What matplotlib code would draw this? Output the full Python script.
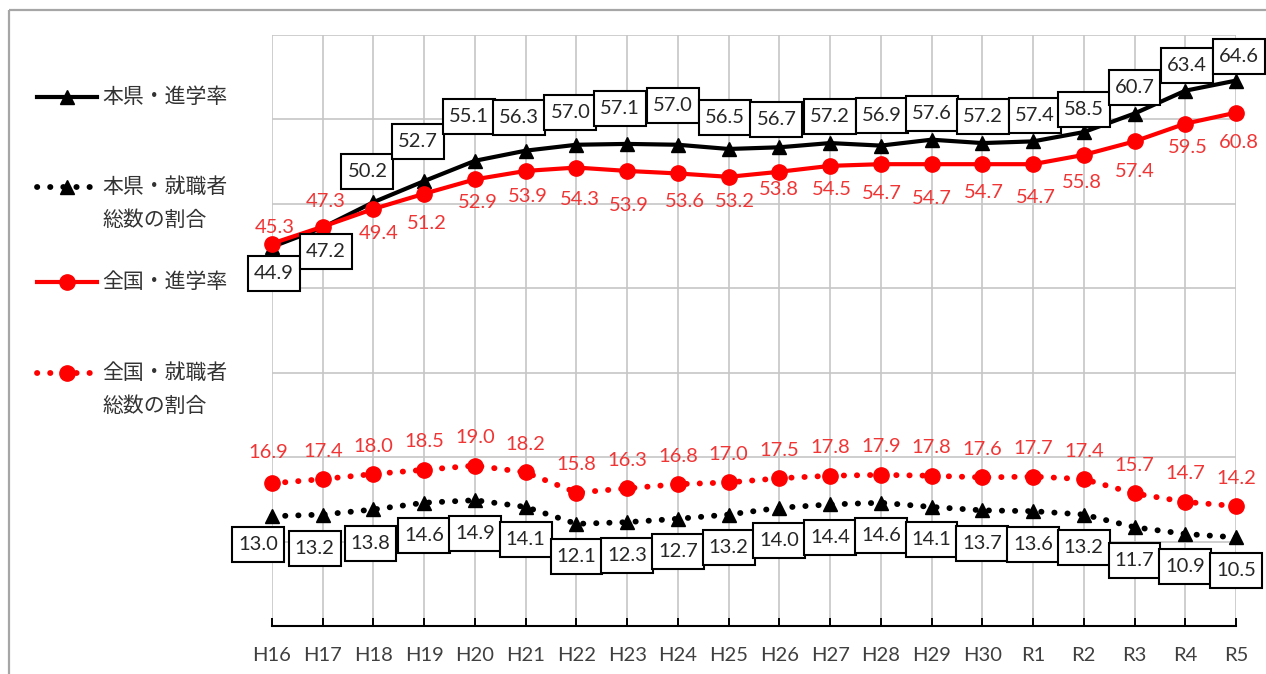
import numpy as np
import matplotlib
matplotlib.use("Agg")
import matplotlib.pyplot as plt
from matplotlib.patches import Rectangle
from matplotlib.path import Path

plt.rcParams['font.family'] = ['Lato', 'Noto Sans CJK JP', 'DejaVu Sans']

years = ["H16", "H17", "H18", "H19", "H20", "H21", "H22", "H23", "H24", "H25",
         "H26", "H27", "H28", "H29", "H30", "R1", "R2", "R3", "R4", "R5"]

# 本県・進学率
pref_rate = [44.9, 47.2, 50.2, 52.7, 55.1, 56.3, 57.0, 57.1, 57.0, 56.5,
             56.7, 57.2, 56.9, 57.6, 57.2, 57.4, 58.5, 60.7, 63.4, 64.6]
# 全国・進学率
natl_rate = [45.3, 47.3, 49.4, 51.2, 52.9, 53.9, 54.3, 53.9, 53.6, 53.2,
             53.8, 54.5, 54.7, 54.7, 54.7, 54.7, 55.8, 57.4, 59.5, 60.8]
# 本県・就職者総数の割合
pref_job = [13.0, 13.2, 13.8, 14.6, 14.9, 14.1, 12.1, 12.3, 12.7, 13.2,
            14.0, 14.4, 14.6, 14.1, 13.7, 13.6, 13.2, 11.7, 10.9, 10.5]
# 全国・就職者総数の割合
natl_job = [16.9, 17.4, 18.0, 18.5, 19.0, 18.2, 15.8, 16.3, 16.8, 17.0,
            17.5, 17.8, 17.9, 17.8, 17.6, 17.7, 17.4, 15.7, 14.7, 14.2]

series_names = ["本県・進学率", "本県・就職者\n総数の割合", "全国・進学率", "全国・就職者\n総数の割合"]

# data label offsets in pixels (dx, dy), dy positive = downwards
pref_rate_off = [(2, 27), (3, 24), (-6, -31), (-6, -40), (-6, -44), (-7, -33), (-6, -32),
                 (-7, -35), (-5, -39), (-4, -31), (-3, -28), (0, -27), (1, -30), (0, -26),
                 (1, -27), (2, -26), (0, -23), (0, -26), (2, -25), (3, -24)]
natl_rate_off = [(3, -16), (3, -25), (5, 25), (3, 30), (3, 23), (2, 26), (3, 32), (2, 35),
                 (7, 28), (6, 25), (0, 18), (2, 24), (1, 29), (0, 34), (2, 28), (3, 33),
                 (-2, 28), (0, 30), (3, 24), (3, 30)]
pref_job_off = [(-14, 28), (-8, 34), (-3, 34)] + [(0, 33)] * 17
natl_job_off = [(-4, -31)] + [(0, -28)] * 19

RED = "#ff0000"
RED_TXT = "#f03535"
GRID = "#c6c6c6"

W, H = 1266, 674
fig = plt.figure(figsize=(W / 100, H / 100), dpi=100)

# overlay for border + legend, in pixel coords
lax = fig.add_axes([0, 0, 1, 1])
lax.set_xlim(0, W)
lax.set_ylim(H, 0)
lax.axis("off")
lax.add_patch(Rectangle((9, 10), W + 50, H + 50, fill=False, edgecolor="#a6a6a6", lw=1.6))

ax = fig.add_axes([272 / W, 1 - 626 / H, (1236 - 272) / W, (626 - 35) / H])
x = np.arange(len(years))

solid = dict(lw=3.0, solid_joinstyle="round", clip_on=False, zorder=3)
dotted = dict(lw=4.2, linestyle=(0, (0.05, 2.2)), dash_capstyle="round", clip_on=False, zorder=3)

ax.plot(x, pref_rate, color="black", marker="^", ms=10, **solid)
ax.plot(x, natl_rate, color=RED, marker="o", ms=11, **solid)
ax.plot(x, pref_job, color="black", marker="^", ms=10, **dotted)
ax.plot(x, natl_job, color=RED, marker="o", ms=11, **dotted)


def label_box(x0, y0, width, height, mutation_size):
    # wider vertical padding than horizontal, like the excel label boxes
    px, py = 6, 9
    x0, y0 = x0 - px, y0 - py
    x1, y1 = x0 + width + 2 * px, y0 + height + 2 * py
    return Path([(x0, y0), (x1, y0), (x1, y1), (x0, y1), (x0, y0)], closed=True)


box = dict(boxstyle=label_box, fc="white", ec="black", lw=1.5)


def put_labels(vals, offs, color, boxed):
    for i, v in enumerate(vals):
        dx, dy = offs[i]
        ax.annotate(f"{v:.1f}", (x[i], v), xytext=(dx, -dy), textcoords="offset pixels",
                    ha="center", va="center", fontsize=14.5, color=color,
                    bbox=box if boxed else None, annotation_clip=False, zorder=6)


put_labels(natl_rate, natl_rate_off, RED_TXT, False)
put_labels(natl_job, natl_job_off, RED_TXT, False)
put_labels(pref_rate, pref_rate_off, "#262626", True)
put_labels(pref_job, pref_job_off, "#262626", True)

ax.set_xlim(0, len(years) - 1)
ax.set_ylim(0, 70)
ax.set_xticks(x)
ax.set_xticklabels(years)
ax.set_yticks(np.arange(0, 71, 10))
ax.tick_params(axis="y", length=0, labelleft=False)
ax.tick_params(axis="x", direction="in", length=6, width=1.4, color="black",
               labelsize=14.5, labelcolor="#404040", pad=15)
ax.grid(True, color=GRID, lw=1.2, zorder=0)
ax.set_axisbelow(True)
for s in ["top", "right", "left"]:
    ax.spines[s].set_visible(False)
ax.spines["bottom"].set_linewidth(1.5)
ax.spines["bottom"].set_zorder(4)

# legend on the left
leg_y = [97, 187, 282, 373]
leg_styles = [("black", "^", solid), ("black", "^", dotted), (RED, "o", solid), (RED, "o", dotted)]
for yy, name, (c, m, st) in zip(leg_y, series_names, leg_styles):
    st = dict(st)
    st.pop("zorder")
    lax.plot([37, 97], [yy, yy], color=c, **st)
    lax.plot([67], [yy], color=c, marker=m, ms=10 if m == "^" else 11, linestyle="none")
    for k, line in enumerate(name.split("\n")):
        lax.text(102, yy + 33 * k, line, fontsize=15, color="#333333", va="center", ha="left")

fig.savefig("out.png", dpi=100)
